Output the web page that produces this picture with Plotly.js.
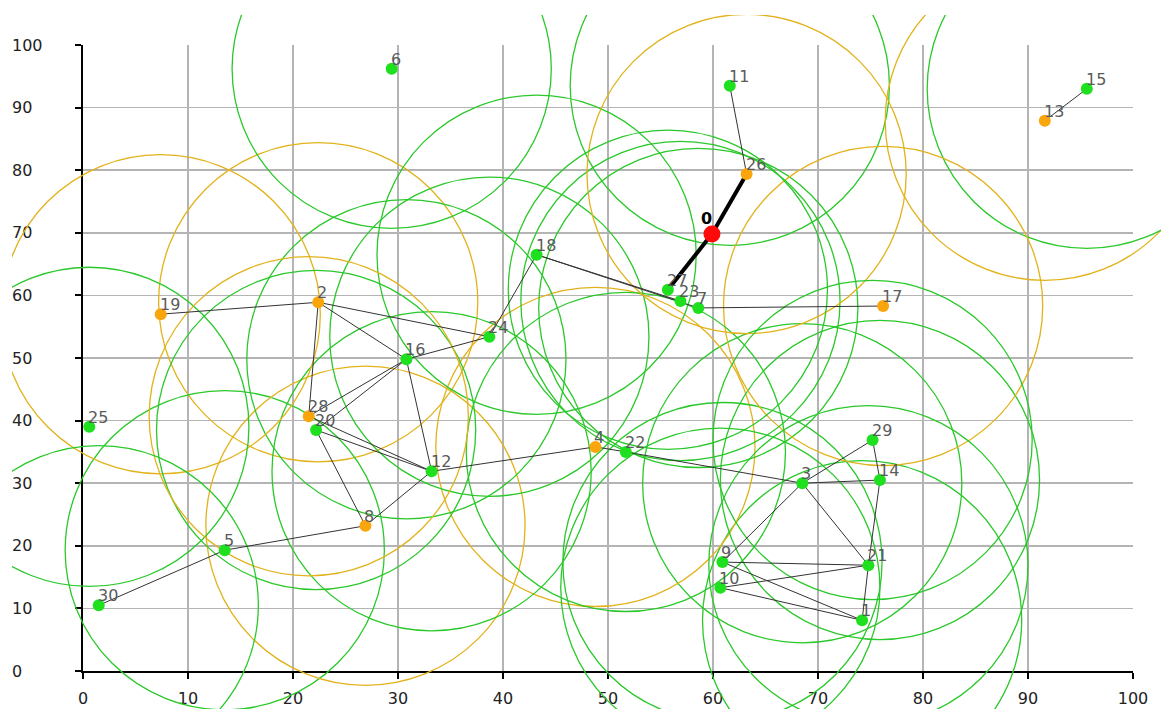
<!DOCTYPE html>
<html>
<head>
<meta charset="utf-8">
<script src="https://cdn.plot.ly/plotly-3.0.1.min.js"></script>
<style>html,body{margin:0;padding:0;background:#fff;}#chart{width:1161px;height:709px;}</style>
</head>
<body>
<div id="chart"></div>
<script>
// ---- data ----
const nodeIds = [0,1,2,3,4,5,6,7,8,9,10,11,12,13,14,15,16,17,18,19,20,21,22,23,24,25,26,27,28,29,30];
const nodeX = [59.9,74.2,22.4,68.5,48.8,13.5,29.4,58.6,26.9,60.9,60.7,61.6,33.2,91.6,75.9,95.6,30.8,76.2,43.2,7.4,22.2,74.8,51.7,56.9,38.7,0.6,63.2,55.7,21.5,75.2,1.5];
const nodeY = [69.8,8.1,58.9,30.0,35.8,19.3,96.2,58.0,23.2,17.4,13.3,93.5,31.9,87.9,30.5,93.0,49.8,58.3,66.5,57.0,38.5,16.9,35.0,59.1,53.4,39.0,79.4,60.9,40.7,36.9,10.5];
// node kind: 'sink', 'normal', 'head'
const nodeKind = ['sink','normal','head','normal','head','normal','normal','normal','head','normal','normal','normal','normal','head','normal','normal','normal','head','normal','head','normal','normal','normal','normal','normal','normal','head','normal','head','normal','normal'];
const nodeLabels = nodeIds.map(String);
// thin links
const linkFrom = [11,13,18,18,7,18,24,2,2,2,16,16,16,28,20,20,8,5,12,4,22,3,3,29,3,3,14,21,9,9,10,10,28,30];
const linkTo   = [26,15,23,7,17,24,16,19,24,16,28,20,12,2,12,8,12,8,4,22,3,14,29,14,21,9,21,1,21,1,21,1,12,5];
// thick route to sink
const routeFrom = [26,27];
const routeTo = [0,0];
// communication range (x-axis units)
const commRange = 15.2;
const xTicks = [0,10,20,30,40,50,60,70,80,90,100];
const yTicks = [0,10,20,30,40,50,60,70,80,90,100];

// ---- layout geometry ----
const W = 1161, H = 709;
const plotL = 83, plotR = 1133, plotT = 45, plotB = 671;
const clipL = 12, clipT = 15;
const pxPerX = (plotR - plotL) / 100, pxPerY = (plotB - plotT) / 100;
const x2Range = [(clipL - plotL) / pxPerX, (W - plotL) / pxPerX];
const y2Range = [-(H - plotB) / pxPerY, (plotB - clipT) / pxPerY];
const yRadius = commRange * pxPerX / pxPerY;

const colors = {normal:'#1ee01e', head:'#f9a60c', sink:'#ff0a0a'};
const ringColors = {normal:'#2ac82a', head:'#e2b21a'};
const labelFont = {family:'DejaVu Sans, Verdana, sans-serif', size:16, color:'#5a5a5a'};

const shapes = [];
nodeIds.forEach((id, i) => {
  if (nodeKind[i] === 'sink') return;
  shapes.push({type:'circle', xref:'x2', yref:'y2', layer:'below',
    x0: nodeX[i] - commRange, x1: nodeX[i] + commRange,
    y0: nodeY[i] - yRadius, y1: nodeY[i] + yRadius,
    line:{color: ringColors[nodeKind[i]], width:1.3}, fillcolor:'rgba(0,0,0,0)'});
});

const annotations = nodeIds.map((id, i) => {
  const sink = nodeKind[i] === 'sink';
  return {xref:'x2', yref:'y2', x:nodeX[i], y:nodeY[i], text: nodeLabels[i], showarrow:false,
    xanchor: sink ? 'right' : 'left', yanchor:'bottom',
    xshift: sink ? 1 : -2, yshift: sink ? 5 : -1,
    font: sink ? {family:labelFont.family, size:16, color:'#000', weight:'bold'} : labelFont,
    borderpad:0};
});

function segs(from, to) {
  const xs = [], ys = [];
  for (let k = 0; k < from.length; k++) {
    xs.push(nodeX[from[k]], nodeX[to[k]], null);
    ys.push(nodeY[from[k]], nodeY[to[k]], null);
  }
  return {xs, ys};
}
const thin = segs(linkFrom, linkTo);
const thick = segs(routeFrom, routeTo);

const idxNormal = nodeIds.filter((id,i) => nodeKind[i] !== 'sink');
const idxSink = nodeIds.filter((id,i) => nodeKind[i] === 'sink');

const traces = [
  {x:[], y:[], xaxis:'x', yaxis:'y', type:'scatter', mode:'markers', showlegend:false, hoverinfo:'skip'},
  {x:[], y:[], xaxis:'x', yaxis:'y3', type:'scatter', mode:'markers', showlegend:false, hoverinfo:'skip'},
  {x:thin.xs, y:thin.ys, xaxis:'x2', yaxis:'y2', type:'scatter', mode:'lines',
   line:{color:'#333333', width:1}, showlegend:false, hoverinfo:'skip'},
  {x:thick.xs, y:thick.ys, xaxis:'x2', yaxis:'y2', type:'scatter', mode:'lines',
   line:{color:'#000000', width:4}, showlegend:false, hoverinfo:'skip'},
  {x: idxNormal.map(i => nodeX[i]), y: idxNormal.map(i => nodeY[i]),
   xaxis:'x2', yaxis:'y2', type:'scatter', mode:'markers',
   marker:{size:12, color: idxNormal.map(i => colors[nodeKind[i]]), line:{width:0}},
   showlegend:false, hoverinfo:'skip', cliponaxis:false},
  {x: idxSink.map(i => nodeX[i]), y: idxSink.map(i => nodeY[i]),
   xaxis:'x2', yaxis:'y2', type:'scatter', mode:'markers',
   marker:{size:17, color: idxSink.map(i => colors[nodeKind[i]]), line:{width:0}},
   showlegend:false, hoverinfo:'skip', cliponaxis:false}
];

const tickFont = {family:'DejaVu Sans, Verdana, sans-serif', size:16, color:'#222'};
const layout = {
  width:W, height:H, autosize:false,
  margin:{l:0, r:0, t:0, b:0, pad:0},
  paper_bgcolor:'#ffffff', plot_bgcolor:'rgba(0,0,0,0)',
  showlegend:false,
  xaxis:{domain:[plotL/W, plotR/W], range:[0,100], tickvals:xTicks, ticktext:xTicks.map(String),
    showgrid:true, gridcolor:'#b4b4b4', gridwidth:1.5, zeroline:false,
    showline:true, linecolor:'#000', linewidth:2, ticks:'outside', ticklen:6, tickwidth:2, tickcolor:'#000',
    tickfont:tickFont, ticklabelstandoff:6, anchor:'y', fixedrange:true},
  yaxis:{domain:[(H-plotB)/H, (H-plotT)/H], range:[0,100], tickvals:yTicks,
    showgrid:true, gridcolor:'#b4b4b4', gridwidth:1.5, zeroline:false,
    showline:true, linecolor:'#000', linewidth:2, ticks:'outside', ticklen:6, tickwidth:2, tickcolor:'#000',
    showticklabels:false, anchor:'x', fixedrange:true},
  yaxis3:{overlaying:'y', anchor:'free', position:11/W, side:'right', range:[0,100],
    tickvals:yTicks, ticktext:yTicks.map(String), showgrid:false, zeroline:false, showline:false,
    ticks:'', tickfont:tickFont, fixedrange:true},
  xaxis2:{domain:[clipL/W, 1], range:x2Range, visible:false, anchor:'y2', fixedrange:true},
  yaxis2:{domain:[0, (H-clipT)/H], range:y2Range, visible:false, anchor:'x2', fixedrange:true},
  shapes: shapes,
  annotations: annotations
};
Plotly.newPlot('chart', traces, layout, {staticPlot:true, displayModeBar:false});
</script>
</body>
</html>
